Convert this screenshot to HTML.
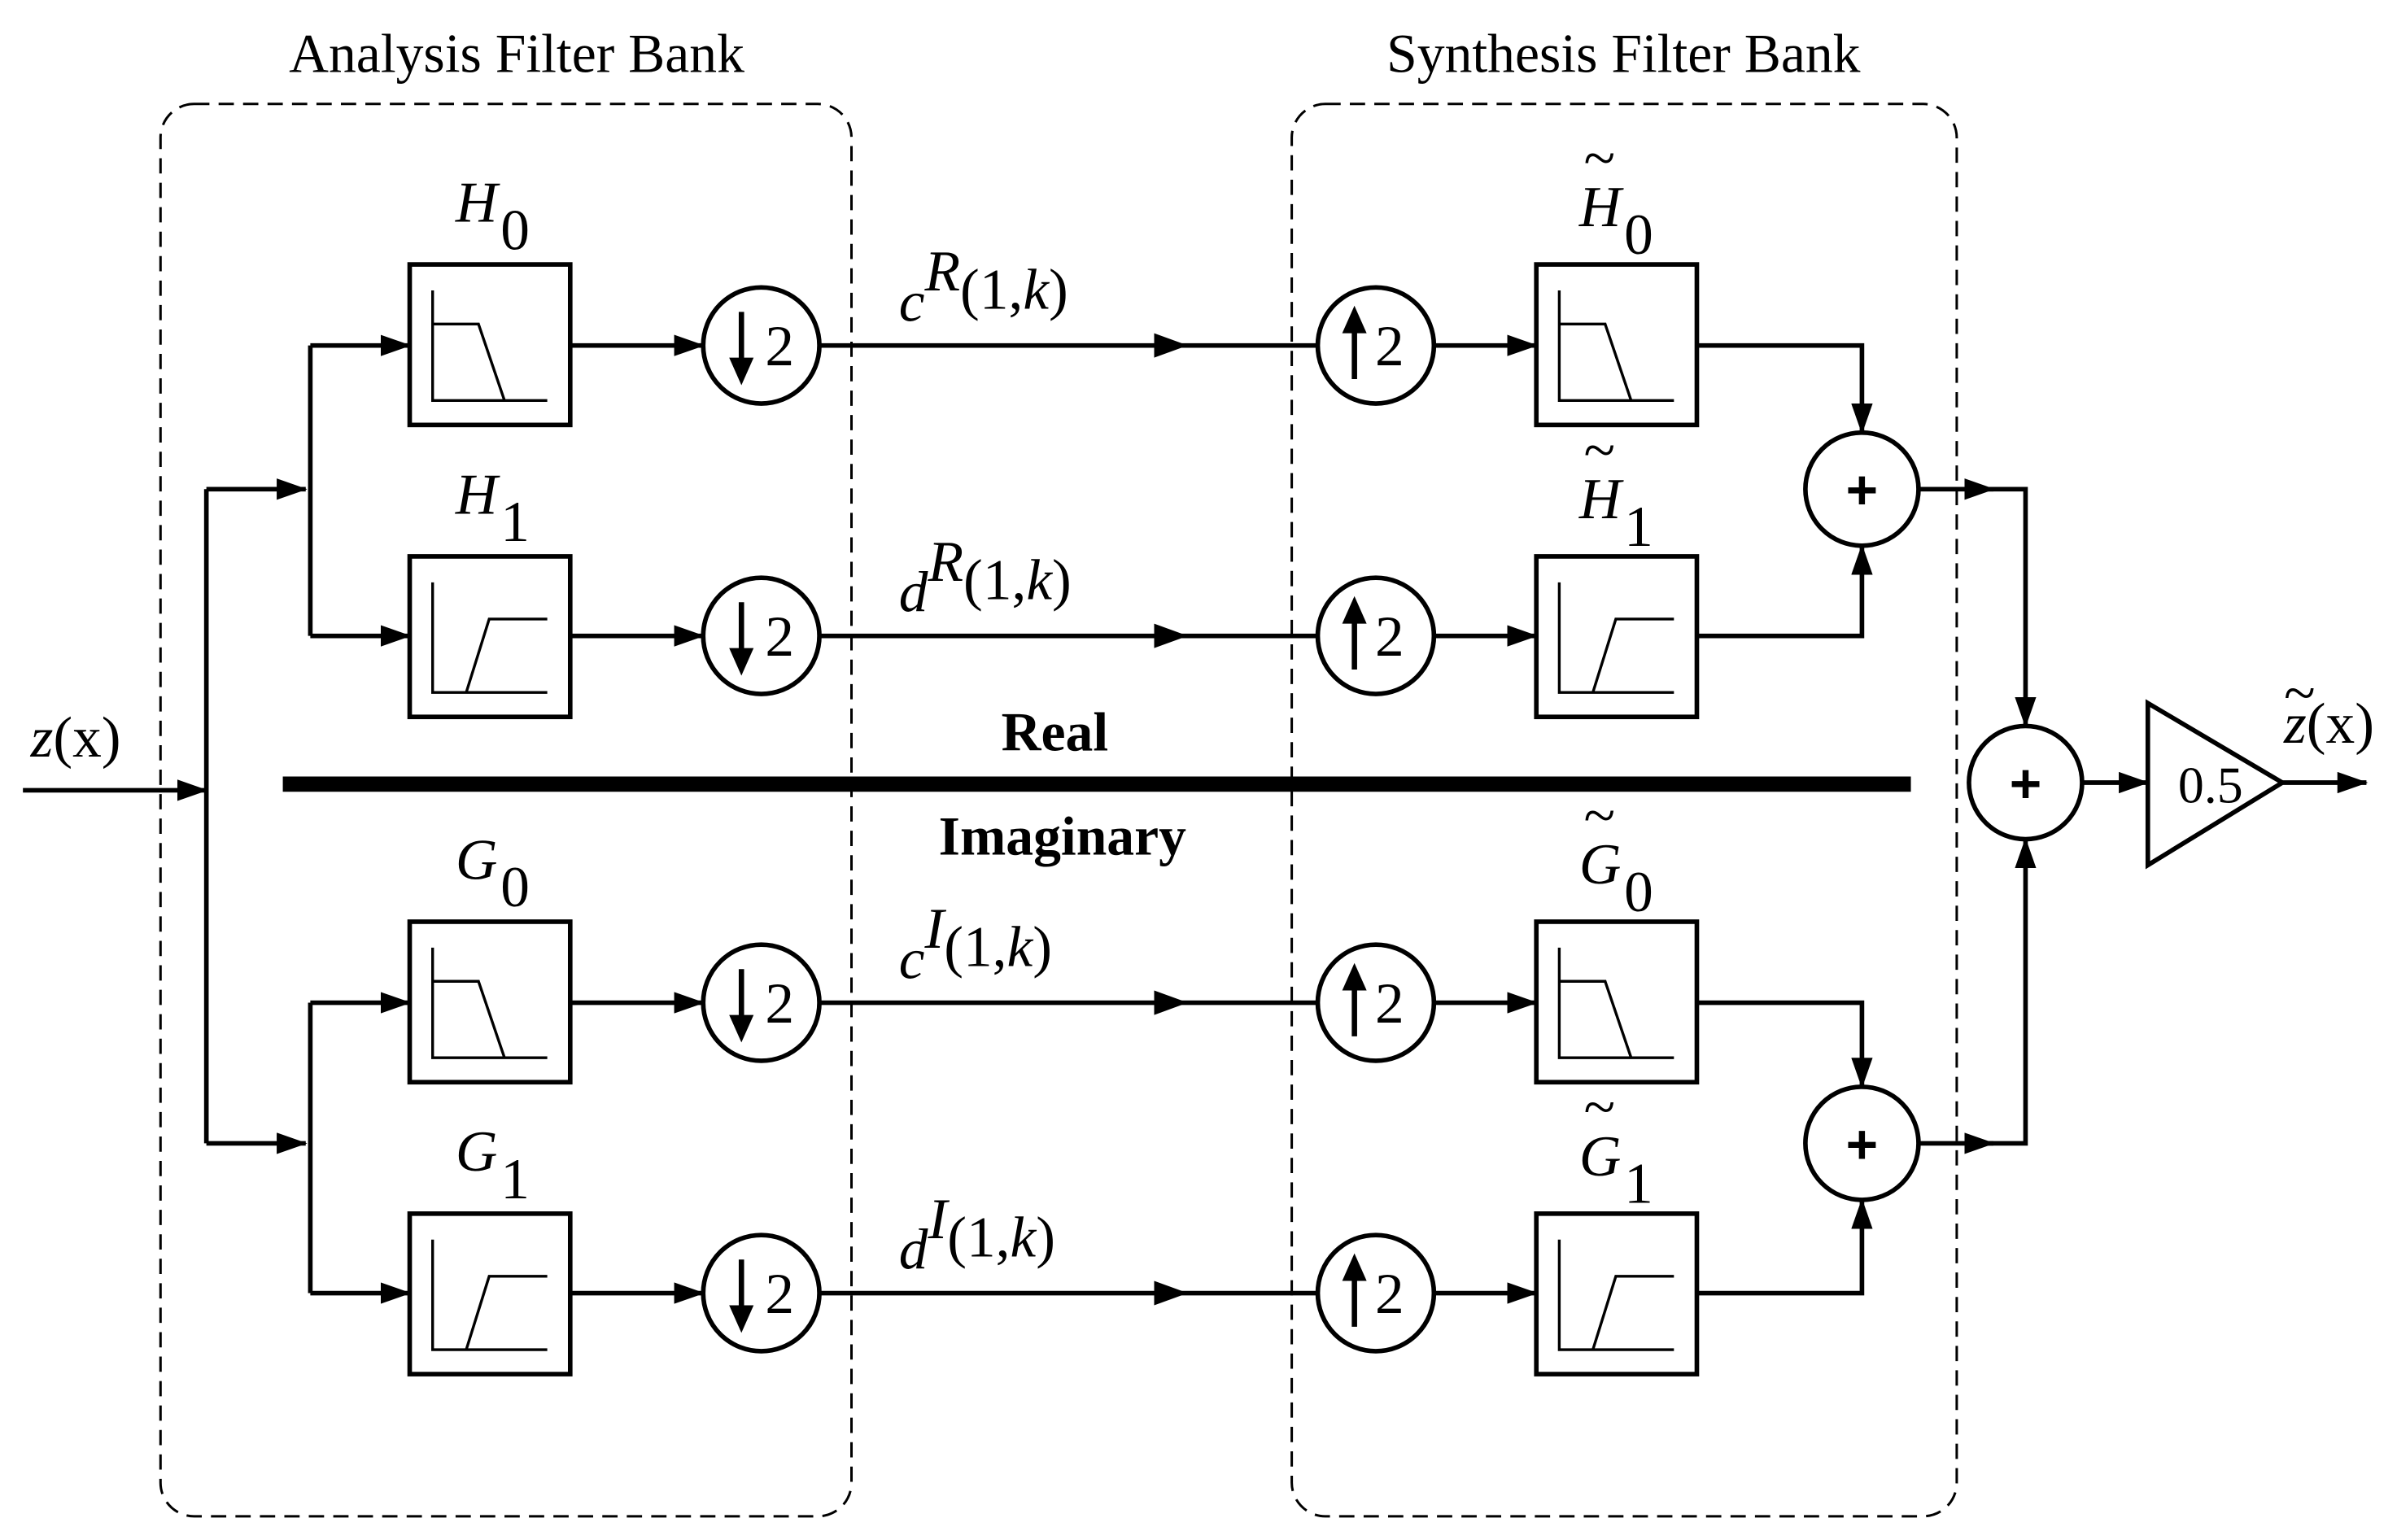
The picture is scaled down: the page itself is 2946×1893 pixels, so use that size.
<!DOCTYPE html>
<html><head><meta charset="utf-8"><style>html,body{margin:0;padding:0;background:#fff}svg{display:block}</style></head>
<body>
<svg width="2946" height="1893" viewBox="0 0 1568 1007.5" xmlns="http://www.w3.org/2000/svg" font-family="'Liberation Serif', serif">
<defs>
<marker id="a" markerWidth="20" markerHeight="14" refX="19" refY="7" orient="auto" markerUnits="userSpaceOnUse" viewBox="0 0 20 14"><path d="M0,0 L20,7 L0,14 z" fill="#000"/></marker>
</defs>
<rect width="1568" height="1008" fill="#fff"/>
<g fill="none" stroke="#000" stroke-width="1.6" stroke-dasharray="10,6">
<rect x="105" y="68" width="452" height="924" rx="22"/>
<rect x="845" y="68" width="435" height="924" rx="22"/>
</g>
<g font-size="36" text-anchor="middle">
<text x="338" y="47">Analysis Filter Bank</text>
<text x="1062" y="47">Synthesis Filter Bank</text>
</g>
<g stroke="#000" stroke-width="3" fill="none">
<line x1="15" y1="517" x2="135" y2="517" marker-end="url(#a)"/>
<line x1="135" y1="320" x2="135" y2="748"/>
<line x1="135" y1="320" x2="200" y2="320" marker-end="url(#a)"/>
<line x1="135" y1="748" x2="200" y2="748" marker-end="url(#a)"/>
<line x1="203" y1="226" x2="203" y2="416"/>
<line x1="203" y1="656" x2="203" y2="846"/>
<line x1="203" y1="226" x2="268" y2="226" marker-end="url(#a)"/>
<line x1="203" y1="416" x2="268" y2="416" marker-end="url(#a)"/>
<line x1="203" y1="656" x2="268" y2="656" marker-end="url(#a)"/>
<line x1="203" y1="846" x2="268" y2="846" marker-end="url(#a)"/>
<line x1="373" y1="226" x2="460" y2="226" marker-end="url(#a)"/>
<line x1="373" y1="416" x2="460" y2="416" marker-end="url(#a)"/>
<line x1="373" y1="656" x2="460" y2="656" marker-end="url(#a)"/>
<line x1="373" y1="846" x2="460" y2="846" marker-end="url(#a)"/>
<line x1="537" y1="226" x2="862" y2="226"/>
<line x1="537" y1="416" x2="862" y2="416"/>
<line x1="537" y1="656" x2="862" y2="656"/>
<line x1="537" y1="846" x2="862" y2="846"/>
<line x1="938" y1="226" x2="1005" y2="226" marker-end="url(#a)"/>
<line x1="938" y1="416" x2="1005" y2="416" marker-end="url(#a)"/>
<line x1="938" y1="656" x2="1005" y2="656" marker-end="url(#a)"/>
<line x1="938" y1="846" x2="1005" y2="846" marker-end="url(#a)"/>
<polyline points="1110,226 1218,226 1218,283" marker-end="url(#a)"/>
<polyline points="1110,416 1218,416 1218,357" marker-end="url(#a)"/>
<polyline points="1110,656 1218,656 1218,711" marker-end="url(#a)"/>
<polyline points="1110,846 1218,846 1218,785" marker-end="url(#a)"/>
<line x1="1255" y1="320" x2="1304" y2="320" marker-end="url(#a)"/>
<polyline points="1300,320 1325,320 1325,475" marker-end="url(#a)"/>
<line x1="1255" y1="748" x2="1304" y2="748" marker-end="url(#a)"/>
<polyline points="1300,748 1325,748 1325,549" marker-end="url(#a)"/>
<line x1="1362" y1="512" x2="1405" y2="512" marker-end="url(#a)"/>
<line x1="1493" y1="512" x2="1548" y2="512" marker-end="url(#a)"/>
</g>
<g fill="#000">
<path d="M755,218 L777,226 L755,234 z"/>
<path d="M755,408 L777,416 L755,424 z"/>
<path d="M755,648 L777,656 L755,664 z"/>
<path d="M755,838 L777,846 L755,854 z"/>
</g>
<line x1="185" y1="513" x2="1250" y2="513" stroke="#000" stroke-width="10"/>
<g stroke="#000" stroke-width="3" fill="#fff">
<rect x="268" y="173" width="105" height="105"/>
<rect x="268" y="364" width="105" height="105"/>
<rect x="268" y="603" width="105" height="105"/>
<rect x="268" y="794" width="105" height="105"/>
<rect x="1005" y="173" width="105" height="105"/>
<rect x="1005" y="364" width="105" height="105"/>
<rect x="1005" y="603" width="105" height="105"/>
<rect x="1005" y="794" width="105" height="105"/>
<circle cx="498" cy="226" r="38"/><circle cx="498" cy="416" r="38"/><circle cx="498" cy="656" r="38"/><circle cx="498" cy="846" r="38"/>
<circle cx="900" cy="226" r="38"/><circle cx="900" cy="416" r="38"/><circle cx="900" cy="656" r="38"/><circle cx="900" cy="846" r="38"/>
<circle cx="1218" cy="320" r="37"/><circle cx="1218" cy="748" r="37"/><circle cx="1325" cy="512" r="37"/>
<polygon points="1405,460 1405,566 1493,512"/>
</g>
<g stroke="#000" stroke-width="1.8" fill="none">
<g id="lp"><polyline points="283,190 283,262 358,262"/><polyline points="283,212 313,212 330,262"/></g>
<use href="#lp" x="0" y="430"/><use href="#lp" x="737" y="0"/><use href="#lp" x="737" y="430"/>
<g id="hp"><polyline points="283,381 283,453 358,453"/><polyline points="305,453 320,405 358,405"/></g>
<use href="#hp" x="0" y="430"/><use href="#hp" x="737" y="0"/><use href="#hp" x="737" y="430"/>
</g>
<g stroke="#000" stroke-width="3.5" fill="#000">
<g id="dn"><line x1="485" y1="204" x2="485" y2="238"/><path d="M477,234 L485,252 L493,234 z" stroke="none"/></g>
<use href="#dn" y="190"/><use href="#dn" y="430"/><use href="#dn" y="620"/>
<g id="up"><line x1="886" y1="214" x2="886" y2="248"/><path d="M878,218 L886,200 L894,218 z" stroke="none"/></g>
<use href="#up" y="190"/><use href="#up" y="430"/><use href="#up" y="620"/>
</g>
<g font-size="38" text-anchor="middle">
<text x="510" y="239">2</text><text x="510" y="429">2</text><text x="510" y="669">2</text><text x="510" y="859">2</text>
<text x="909" y="239">2</text><text x="909" y="429">2</text><text x="909" y="669">2</text><text x="909" y="859">2</text>
<text x="1446" y="525" font-size="34">0.5</text>
</g>
<g font-family="'Liberation Sans', sans-serif" font-weight="bold" font-size="36" text-anchor="middle">
<text x="1218" y="333">+</text><text x="1218" y="761">+</text><text x="1325" y="525">+</text>
<text x="690" y="491" font-family="'Liberation Serif', serif">Real</text>
<text x="695" y="559" font-family="'Liberation Serif', serif">Imaginary</text>
</g>
<g font-size="38">
<text x="298" y="145"><tspan font-style="italic">H</tspan><tspan dx="2" dy="18">0</tspan></text>
<text x="298" y="336"><tspan font-style="italic">H</tspan><tspan dx="2" dy="18">1</tspan></text>
<text x="298" y="575"><tspan font-style="italic">G</tspan><tspan dx="2" dy="18">0</tspan></text>
<text x="298" y="766"><tspan font-style="italic">G</tspan><tspan dx="2" dy="18">1</tspan></text>
<text x="1033" y="148"><tspan font-style="italic">H</tspan><tspan dx="2" dy="18">0</tspan></text>
<text x="1033" y="339"><tspan font-style="italic">H</tspan><tspan dx="2" dy="18">1</tspan></text>
<text x="1033" y="578"><tspan font-style="italic">G</tspan><tspan dx="2" dy="18">0</tspan></text>
<text x="1033" y="769"><tspan font-style="italic">G</tspan><tspan dx="2" dy="18">1</tspan></text>
<text x="1036" y="116">~</text><text x="1036" y="307">~</text><text x="1036" y="546">~</text><text x="1036" y="737">~</text>
<text x="588" y="210"><tspan font-style="italic">c</tspan><tspan dy="-20" font-style="italic">R</tspan><tspan dy="12">(1,</tspan><tspan font-style="italic">k</tspan><tspan>)</tspan></text>
<text x="588" y="400"><tspan font-style="italic">d</tspan><tspan dy="-20" font-style="italic">R</tspan><tspan dy="12">(1,</tspan><tspan font-style="italic">k</tspan><tspan>)</tspan></text>
<text x="588" y="640"><tspan font-style="italic">c</tspan><tspan dy="-20" font-style="italic">I</tspan><tspan dy="12">(1,</tspan><tspan font-style="italic">k</tspan><tspan>)</tspan></text>
<text x="588" y="830"><tspan font-style="italic">d</tspan><tspan dy="-20" font-style="italic">I</tspan><tspan dy="12">(1,</tspan><tspan font-style="italic">k</tspan><tspan>)</tspan></text>
<text x="20" y="495"><tspan font-style="italic">z</tspan>(x)</text>
<text x="1494" y="486"><tspan font-style="italic">z</tspan>(x)</text>
<text x="1494" y="466">~</text>
</g>
</svg>
</body></html>
